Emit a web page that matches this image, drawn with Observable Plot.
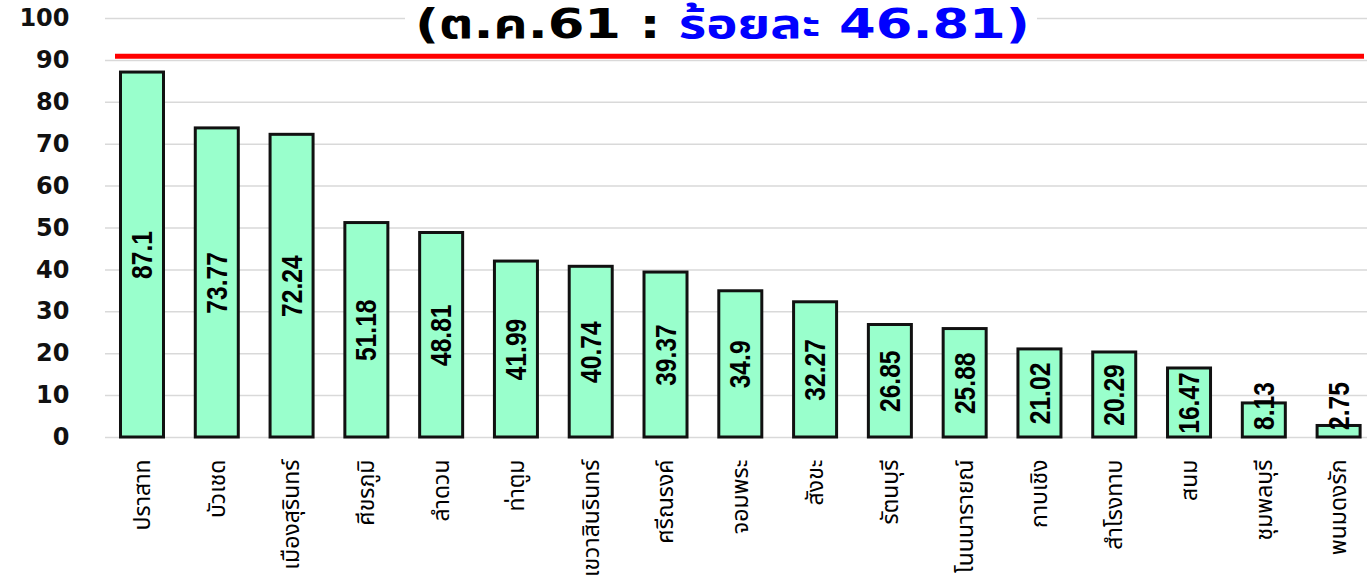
<!DOCTYPE html>
<html>
<head>
<meta charset="utf-8">
<script src="https://cdn.jsdelivr.net/npm/d3@7"></script>
<script src="https://cdn.jsdelivr.net/npm/@observablehq/plot@0.6"></script>
<style>
  html, body { margin: 0; padding: 0; background: #fff; overflow: hidden; }
  #wrap { position: relative; width: 1367px; height: 587px; }
  #title {
    position: absolute; top: 1px; left: 405px; width: 632px; height: 46px;
    background: #fff; overflow: visible;
  }
  #title .inner {
    display: inline-block; position: absolute; left: 10px; top: 0;
    font: bold 40px "DejaVu Sans", "Noto Sans Thai", "Noto Sans", sans-serif;
    line-height: 46px; white-space: nowrap; color: #000; transform-origin: 0 50%;
  }
  #title .blue { color: #0000ff; }
</style>
</head>
<body>
<div id="wrap"><div id="chart"></div><div id="title"><span class="inner">(ต.ค.61 : <span class="blue">ร้อยละ 46.81)</span></span></div></div>
<script>
const districts = ["ปราสาท","บัวเชด","เมืองสุรินทร์","ศีขรภูมิ","ลำดวน","ท่าตูม","เขวาสินรินทร์","ศรีณรงค์","จอมพระ","สังขะ","รัตนบุรี","โนนนารายณ์","กาบเชิง","สำโรงทาบ","สนม","ชุมพลบุรี","พนมดงรัก"];
const values = [87.1,73.77,72.24,51.18,48.81,41.99,40.74,39.37,34.9,32.27,26.85,25.88,21.02,20.29,16.47,8.13,2.75];
const yTicks = [0,10,20,30,40,50,60,70,80,90,100];
const target = [91];

const data = districts.map((d, i) => ({name: d, v: values[i]}));

const chart = Plot.plot({
  width: 1367,
  height: 587,
  marginLeft: 105,
  marginRight: 0,
  marginTop: 18,
  marginBottom: 150,
  style: {background: "#fff", overflow: "visible"},
  x: {domain: districts, range: [104.6, 1376], paddingInner: 0.425, paddingOuter: 0.2125, round: false, label: null},
  y: {domain: [0, 100], range: [437, 18], label: null},
  marks: [
    Plot.ruleY(yTicks, {stroke: "#d9d9d9", strokeWidth: 1.5}),
    Plot.ruleY(target, {stroke: "#ff0000", strokeWidth: 5, insetLeft: 10, insetRight: 3}),
    Plot.barY(data, {x: "name", y: "v", fill: "#99ffcc", stroke: "#111", strokeWidth: 3}),
    Plot.text(data, {
      x: "name", y: d => Math.max(d.v / 2, 7.5), text: d => String(d.v),
      rotate: -90, fontSize: 30, fontWeight: "bold", fill: "#000",
      fontFamily: "'Liberation Sans', Arial, sans-serif", className: "vlabel"
    }),
    Plot.axisY(yTicks, {
      tickSize: 0, tickPadding: 36, fontSize: 24, fontWeight: "bold", fill: "#111",
      fontFamily: "'DejaVu Sans', Verdana, sans-serif", tickFormat: d => String(d)
    }),
    Plot.axisX({
      tickSize: 0, tickPadding: 22, tickRotate: -90, fontSize: 23, fill: "#000",
      fontFamily: "Tahoma, 'Noto Sans Thai', 'Noto Sans', sans-serif"
    })
  ]
});
document.getElementById("chart").appendChild(chart);

// narrow the value labels (Arial Narrow look)
chart.querySelectorAll(".vlabel text").forEach(t => {
  const len = t.getComputedTextLength();
  t.setAttribute("textLength", (len * 0.82).toFixed(1));
  t.setAttribute("lengthAdjust", "spacingAndGlyphs");
});

// widen the title to the reference's extent
const inner = document.querySelector("#title .inner");
const w = inner.getBoundingClientRect().width;
inner.style.transform = `scaleX(${(615 / w).toFixed(3)})`;
</script>
</body>
</html>
